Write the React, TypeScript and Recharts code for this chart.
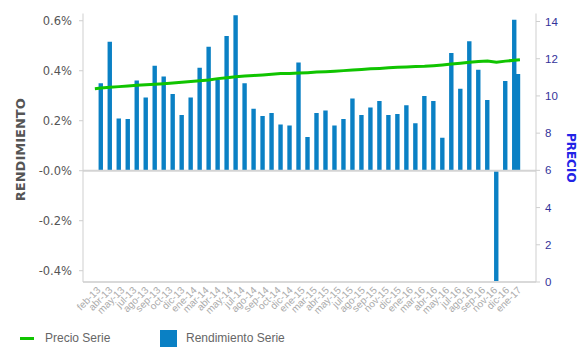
import { ComposedChart, Bar, Line, XAxis, YAxis, ReferenceLine, Legend, Rectangle } from "recharts";

// Etiquetas del eje de fechas (una cada ~41 días)
const etiquetasEje = [
  "feb-13", "abr-13", "may-13", "jul-13", "ago-13", "sep-13", "oct-13", "dic-13",
  "ene-14", "mar-14", "abr-14", "may-14", "jul-14", "ago-14", "sep-14", "oct-14", "dic-14",
  "ene-15", "mar-15", "abr-15", "may-15", "jul-15", "ago-15", "sep-15", "nov-15", "dic-15",
  "ene-16", "mar-16", "abr-16", "may-16", "jul-16", "ago-16", "sep-16", "nov-16", "dic-16",
  "ene-17",
];

// Cierres mensuales (ene-17 es un cierre parcial, al día 13)
const meses = [
  "feb-13", "mar-13", "abr-13", "may-13", "jun-13", "jul-13", "ago-13", "sep-13", "oct-13", "nov-13", "dic-13",
  "ene-14", "feb-14", "mar-14", "abr-14", "may-14", "jun-14", "jul-14", "ago-14", "sep-14", "oct-14", "nov-14", "dic-14",
  "ene-15", "feb-15", "mar-15", "abr-15", "may-15", "jun-15", "jul-15", "ago-15", "sep-15", "oct-15", "nov-15", "dic-15",
  "ene-16", "feb-16", "mar-16", "abr-16", "may-16", "jun-16", "jul-16", "ago-16", "sep-16", "oct-16", "nov-16", "dic-16",
  "ene-17",
];

// Rendimiento mensual en %
const rendimiento = [
  0.350, 0.516, 0.209, 0.207, 0.361, 0.293, 0.420, 0.377, 0.307, 0.223, 0.293,
  0.412, 0.496, 0.363, 0.539, 0.622, 0.350, 0.248, 0.219, 0.231, 0.185, 0.181, 0.433,
  0.135, 0.231, 0.241, 0.181, 0.207, 0.289, 0.223, 0.253, 0.279, 0.223, 0.227, 0.262,
  0.190, 0.299, 0.279, 0.132, 0.471, 0.328, 0.518, 0.404, 0.283, -0.470, 0.359, 0.604,
  0.387,
];

// Precio al cierre de cada mes (feb-13 .. dic-16)
const precio = [
  10.42, 10.47, 10.50, 10.53, 10.57, 10.60, 10.63, 10.66, 10.70, 10.74, 10.78,
  10.82, 10.86, 10.93, 10.98, 11.03, 11.07, 11.10, 11.13, 11.16, 11.20, 11.21, 11.23,
  11.25, 11.28, 11.30, 11.33, 11.36, 11.39, 11.42, 11.46, 11.48, 11.51, 11.54, 11.56,
  11.58, 11.59, 11.62, 11.66, 11.71, 11.76, 11.81, 11.85, 11.88, 11.81, 11.87, 11.92,
];
const precioInicio = 10.39; // primer dato, 10-feb-13
const precioFin = 11.95; // último dato, 19-ene-17

const ticksRend = [-0.4, -0.2, 0, 0.2, 0.4, 0.6];
const ticksPrecio = [0, 2, 4, 6, 8, 10, 12, 14];

// eje x en meses desde 1-ene-13
const inicioTicks = 1.7;
const pasoTicks = 1.338;
const ticksX = etiquetasEje.map((_, i) => inicioTicks + i * pasoTicks);

const data: { x: number; rend?: number; precio?: number }[] = [
  { x: 1 + 9 / 28, precio: precioInicio },
  ...meses.map((m, i) => ({
    x: i < meses.length - 1 ? i + 2 : 48 + 13 / 31,
    rend: rendimiento[i],
    precio: precio[i],
  })),
  { x: 48 + 19 / 31, precio: precioFin },
];

const fuente = "'Liberation Sans', Arial, sans-serif";
const ANCHO_BARRA = 4.4;

// con eje numérico el ancho de banda sale del hueco mínimo entre fechas,
// así que la barra se dibuja con ancho fijo centrada en su fecha
const BarraFecha = (props: any) => {
  const { x, width, ...rest } = props;
  const cx = x + width / 2;
  return <Rectangle {...rest} x={cx - ANCHO_BARRA / 2} width={ANCHO_BARRA} />;
};

const TickFecha = (props: any) => {
  const { x, y, index } = props;
  return (
    <text
      x={x}
      y={y}
      dy={4}
      transform={`rotate(-45, ${x}, ${y})`}
      textAnchor="end"
      fill="#ababab"
      fontSize={10}
      fontFamily={fuente}
    >
      {etiquetasEje[index]}
    </text>
  );
};

const TituloRend = (props: any) => {
  const { viewBox } = props;
  const x = viewBox.x + 20.5;
  const y = viewBox.y + viewBox.height / 2 + 2;
  return (
    <text
      x={x}
      y={y}
      transform={`rotate(-90, ${x}, ${y})`}
      textAnchor="middle"
      dominantBaseline="central"
      fill="#555"
      fontSize={13}
      fontWeight="bold"
      fontFamily="'DejaVu Sans', Verdana, sans-serif"
    >
      RENDIMIENTO
    </text>
  );
};

const TituloPrecio = (props: any) => {
  const { viewBox } = props;
  const x = viewBox.x + 35;
  const y = viewBox.y + viewBox.height / 2 + 10;
  return (
    <text
      x={x}
      y={y}
      transform={`rotate(90, ${x}, ${y})`}
      textAnchor="middle"
      dominantBaseline="central"
      fill="#2323e6"
      fontSize={12}
      fontWeight="bold"
      fontFamily="'DejaVu Sans', Verdana, sans-serif"
    >
      PRECIO
    </text>
  );
};

const Leyenda = () => (
  <div style={{ position: "relative", height: 18, fontFamily: fuente, fontSize: 12, color: "#666" }}>
    <span style={{ position: "absolute", left: 20, top: 8, width: 14, height: 3, background: "#10c400" }} />
    <span style={{ position: "absolute", left: 45, top: 2 }}>Precio Serie</span>
    <span style={{ position: "absolute", left: 160, top: 1, width: 17, height: 17, background: "#0a80c4" }} />
    <span style={{ position: "absolute", left: 186, top: 2 }}>Rendimiento Serie</span>
  </div>
);

export default function App() {
  return (
    <div style={{ position: "absolute", left: 0, top: 0, background: "#fff" }}>
      <ComposedChart
        width={583}
        height={347}
        data={data}
        margin={{ top: 13.5, right: 0, bottom: 0, left: 0 }}
      >
        <XAxis
          type="number"
          dataKey="x"
          domain={[0, 50.4]}
          ticks={ticksX}
          interval={0}
          tick={<TickFecha />}
          tickLine={false}
          tickSize={4}
          tickMargin={2}
          axisLine={{ stroke: "#d9d9d9", strokeWidth: 2 }}
          height={65}
        />
        <YAxis
          yAxisId="izq"
          domain={[-0.4452, 0.629]}
          ticks={ticksRend}
          allowDataOverflow
          width={83}
          tickSize={4}
          tickMargin={7}
          tickFormatter={(v: number) => (v === 0 ? "-0.0%" : `${v.toFixed(1)}%`)}
          tick={{ fill: "#555", fontSize: 11.5, fontFamily: "'DejaVu Sans', Verdana, sans-serif" }}
          axisLine={{ stroke: "#cfcfcf" }}
          tickLine={{ stroke: "#cfcfcf" }}
          label={<TituloRend />}
        />
        <YAxis
          yAxisId="der"
          orientation="right"
          domain={[0, 14.43]}
          ticks={ticksPrecio}
          allowDataOverflow
          width={47}
          tickSize={4}
          tickMargin={5}
          tick={{ fill: "#33339a", fontSize: 11.5, fontFamily: fuente }}
          axisLine={{ stroke: "#cfcfcf" }}
          tickLine={{ stroke: "#cfcfcf" }}
          label={<TituloPrecio />}
        />
        <ReferenceLine yAxisId="izq" y={0} stroke="#d4d4d4" strokeWidth={2} />
        <Bar
          yAxisId="izq"
          dataKey="rend"
          name="Rendimiento Serie"
          fill="#0a80c4"
          shape={<BarraFecha />}
          isAnimationActive={false}
        />
        <Line
          yAxisId="der"
          dataKey="precio"
          name="Precio Serie"
          type="linear"
          stroke="#10c400"
          strokeWidth={3}
          dot={false}
          connectNulls
          isAnimationActive={false}
        />
        <Legend
          layout="horizontal"
          verticalAlign="middle"
          align="center"
          wrapperStyle={{ top: 329, left: 0, width: 583, height: 18 }}
          content={<Leyenda />}
        />
      </ComposedChart>
    </div>
  );
}
